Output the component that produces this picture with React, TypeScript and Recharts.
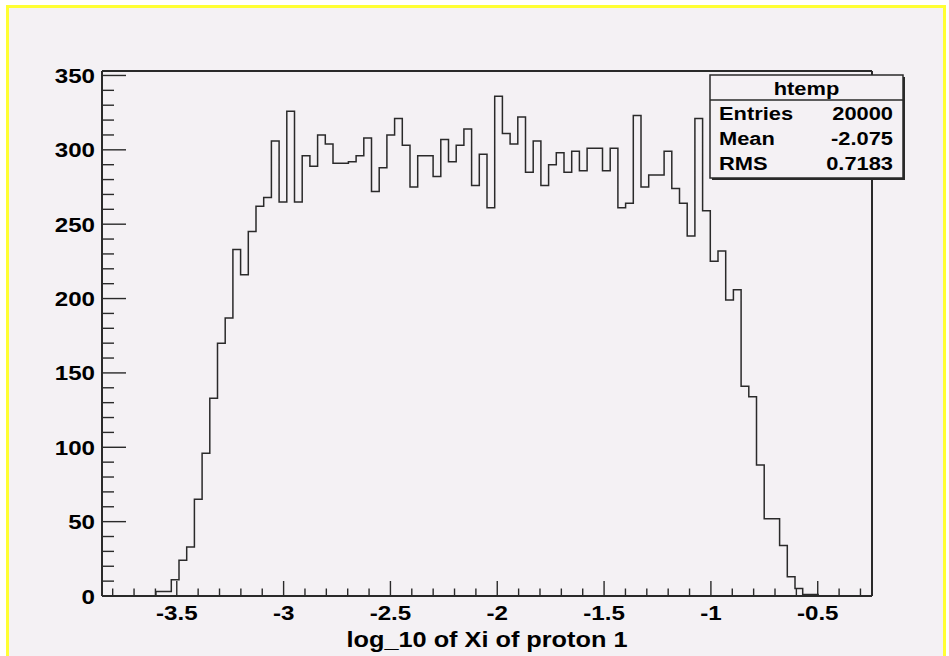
import { LineChart, Line, XAxis, YAxis, ReferenceLine } from "recharts";

// histogram "htemp": 100 equal bins between xMin and xMax
const xMin = -3.85;
const xMax = -0.246;
const yMax = 353;

const counts = [
  0, 0, 0, 0, 0, 0, 0, 3, 3, 11,
  24, 33, 65, 96, 133, 170, 187, 233, 216, 245,
  262, 268, 306, 265, 326, 265, 296, 289, 310, 304,
  291, 291, 292, 296, 308, 272, 288, 310, 321, 303,
  275, 296, 296, 282, 307, 292, 303, 314, 276, 297,
  261, 336, 311, 304, 322, 285, 306, 276, 290, 298,
  285, 299, 286, 301, 301, 286, 301, 261, 264, 323,
  275, 283, 283, 299, 274, 264, 242, 321, 259, 225,
  232, 199, 206, 141, 134, 88, 52, 52, 34, 13,
  5, 1, 1, 0, 0, 0, 0, 0, 0, 0,
];

const xMajorTicks = [-3.5, -3, -2.5, -2, -1.5, -1, -0.5];
const yMajorTicks = [0, 50, 100, 150, 200, 250, 300, 350];

const histName = "htemp";
const statLabels = ["Entries", "Mean", "RMS"];
const statValues = ["20000", "-2.075", "0.7183"];
const xTitle = "log_10 of Xi of proton 1";

const ink = "#2a2a2a";
const bg = "#f4f1f4";
const font = "'Liberation Sans', Arial, Helvetica, sans-serif";
const stretch = 1.15;

const binWidth = (xMax - xMin) / counts.length;
const data = counts.map((n, i) => ({ x: xMin + i * binWidth, n }));
data.push({ x: xMax, n: counts[counts.length - 1] });

// minor ticks every 0.1 on x, every 10 on y
const xTicks = Array.from({ length: 36 }, (_, i) => Math.round((-3.8 + i * 0.1) * 10) / 10);
const yTicks = Array.from({ length: 36 }, (_, i) => i * 10);

function XTick(props: any) {
  const { x, y, payload } = props;
  const v = payload.value;
  const major = xMajorTicks.some((t) => Math.abs(t - v) < 1e-6);
  return (
    <g>
      <line x1={x} x2={x} y1={y} y2={y - (major ? 15 : 7.5)} stroke={ink} strokeWidth={1.4} />
      {major && (
        <text
          transform={`translate(${x},${y + 24}) scale(${stretch},1)`}
          textAnchor="middle"
          fontFamily={font}
          fontWeight="bold"
          fontSize={21}
          fill="#000"
        >
          {String(v)}
        </text>
      )}
    </g>
  );
}

function YTick(props: any) {
  const { x, y, payload } = props;
  const v = payload.value;
  const major = yMajorTicks.includes(v);
  return (
    <g>
      <line x1={x} x2={x + (major ? 24 : 12)} y1={y} y2={y} stroke={ink} strokeWidth={1.4} />
      {major && (
        <text
          transform={`translate(${x - 7},${y + 7.5}) scale(${stretch},1)`}
          textAnchor="end"
          fontFamily={font}
          fontWeight="bold"
          fontSize={21}
          fill="#000"
        >
          {v}
        </text>
      )}
    </g>
  );
}

function StatsBox() {
  const left = 710;
  const top = 75;
  const w = 193;
  const h = 103;
  const rows = [119.5, 144.5, 170];
  return (
    <g fontFamily={font} fontWeight="bold" fontSize={19} fill="#000">
      <rect x={left + 2} y={top + 2} width={w} height={h} fill={ink} />
      <rect x={left} y={top} width={w} height={h} fill={bg} stroke={ink} strokeWidth={1.5} />
      <line x1={left} x2={left + w} y1={100} y2={100} stroke={ink} strokeWidth={1.5} />
      <text transform={`translate(${left + w / 2},95) scale(${stretch},1)`} textAnchor="middle">
        {histName}
      </text>
      {statLabels.map((s, i) => (
        <g key={s}>
          <text transform={`translate(${left + 9},${rows[i]}) scale(${stretch},1)`}>{s}</text>
          <text transform={`translate(${left + w - 10},${rows[i]}) scale(${stretch},1)`} textAnchor="end">
            {statValues[i]}
          </text>
        </g>
      ))}
    </g>
  );
}

export default function App() {
  return (
    <div
      style={{
        position: "absolute",
        left: 0,
        top: 0,
        width: 949,
        height: 656,
        overflow: "hidden",
        background: "#fff",
      }}
    >
      <div
        style={{
          position: "absolute",
          left: 6,
          top: 5,
          width: 940,
          height: 700,
          border: "3px solid #ffff33",
          boxSizing: "border-box",
          background: bg,
        }}
      />
      <div style={{ position: "absolute", left: 0, top: 0 }}>
        <LineChart
          width={949}
          height={656}
          data={data}
          margin={{ top: 71, right: 77, bottom: 0, left: 0 }}
        >
          <XAxis
            type="number"
            dataKey="x"
            domain={[xMin, xMax]}
            ticks={xTicks}
            interval={0}
            allowDataOverflow
            height={60}
            tickSize={0}
            tickMargin={0}
            tickLine={false}
            axisLine={{ stroke: ink, strokeWidth: 2 }}
            tick={(p: any) => <XTick {...p} />}
          />
          <YAxis
            type="number"
            domain={[0, yMax]}
            ticks={yTicks}
            interval={0}
            allowDataOverflow
            width={102}
            tickSize={0}
            tickMargin={0}
            tickLine={false}
            axisLine={{ stroke: ink, strokeWidth: 2 }}
            tick={(p: any) => <YTick {...p} />}
          />
          <ReferenceLine y={yMax} stroke={ink} strokeWidth={2} />
          <ReferenceLine x={xMax} stroke={ink} strokeWidth={2} />
          <Line
            type="stepAfter"
            dataKey="n"
            stroke={ink}
            strokeWidth={1.5}
            dot={false}
            activeDot={false}
            isAnimationActive={false}
          />
        </LineChart>
      </div>
      <svg
        width={949}
        height={656}
        style={{ position: "absolute", left: 0, top: 0, pointerEvents: "none" }}
      >
        <StatsBox />
        <text
          transform={`translate(487,647) scale(${stretch},1)`}
          textAnchor="middle"
          fontFamily={font}
          fontWeight="bold"
          fontSize={22}
          fill="#000"
        >
          {xTitle}
        </text>
      </svg>
    </div>
  );
}
